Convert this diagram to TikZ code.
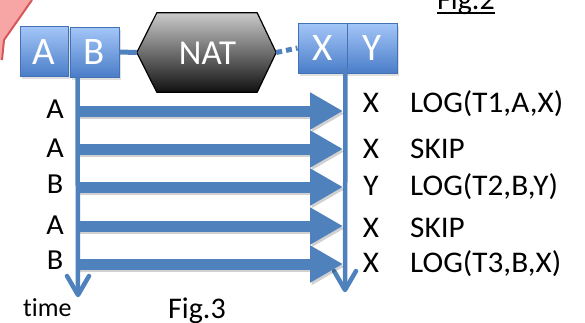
\documentclass[tikz,border=0pt]{standalone}
\usepackage{fontspec}
\setmainfont{Carlito}[Ligatures=NoCommon]
\newfontfamily\widefont{Carlito}[Ligatures=NoCommon, FakeStretch=1.04]
\usetikzlibrary{arrows.meta,calc,shadows}

\definecolor{flow}{HTML}{4F81BD}
\definecolor{boxtop}{HTML}{A4C6F8}
\definecolor{boxbot}{HTML}{4A7DC8}
\definecolor{boxedge}{HTML}{4272B5}
\definecolor{hextop}{HTML}{CACACA}
\definecolor{hexbot}{HTML}{111111}
\definecolor{tabfill}{HTML}{F8A5A5}
\definecolor{tabedge}{HTML}{D35858}

\tikzset{
  fsize/.style={font=\fontsize{#1}{#1}\selectfont},
  wsize/.style={font=\widefont\fontsize{#1}{#1}\selectfont},
  portbox/.style={draw=boxedge, line width=1pt, top color=boxtop, bottom color=boxbot,
    minimum width=48pt, minimum height=50pt, inner sep=0pt, text=white, fsize=39,
    drop shadow={opacity=0.25, shadow xshift=2pt, shadow yshift=-2.5pt}},
  hexpath/.style={draw=black, line width=1.2pt, top color=hextop, bottom color=hexbot},
  link/.style={draw=flow, line width=5pt},
  dashlink/.style={draw=flow, line width=5pt, dash pattern=on 6pt off 4pt},
  timeline/.style={draw=flow, line width=4.5pt},
  chevron/.style={draw=flow, line width=4.5pt, line cap=round, line join=round},
  packet/.style={draw=flow, line width=11pt,
    -{Triangle[length=33pt, width=35pt]}},
  packetshade/.style={draw=black, opacity=0.18, line width=11pt,
    -{Triangle[length=33pt, width=35pt]}},
  lbl/.style={anchor=base, inner sep=0pt, wsize=29},
  port/.style={anchor=base, inner sep=0pt, wsize=30},
  action/.style={anchor=base west, inner sep=0pt, wsize=30},
}

\begin{document}
\begin{tikzpicture}[x=1pt, y=-1pt]
\useasboundingbox (0,0) rectangle (585,322);

% folded red tab in the corner
\fill[tabfill] (0,0) -- (32,0) -- (4,40) -- (2,60) -- (0,60) -- cycle;
\draw[tabedge, line width=2pt, line join=round] (32,0) -- (4,40) -- (2,60);

% caption of the upper figure
\node[anchor=base west, inner sep=0pt, fsize=30] (fig2) at (437,9) {Fig.2};
\draw[black, line width=1.3pt] ($(fig2.base west)+(0,4)$) -- ($(fig2.base east)+(0,4)$);

% hosts on the inner side, NAT box, hosts on the outer side
\node[portbox] (A) at (44,51.5) {A};
\node[portbox, minimum width=49pt] (B) at (94.5,52) {B};
\node[portbox, minimum width=49pt] (X) at (322.5,48) {X};
\node[portbox, minimum width=50pt] (Y) at (372,48) {Y};

\node[minimum width=139pt, minimum height=79pt, inner sep=0pt] (nat) at (206.5,52.5) {};
\path[hexpath] (nat.west) -- ([xshift=20pt]nat.north west) -- ([xshift=-19pt]nat.north east)
  -- (nat.east) -- ([xshift=-19pt]nat.south east) -- ([xshift=20pt]nat.south west) -- cycle;
\node[text=white, fsize=35, inner sep=0pt] (natlabel) at (207.5,53.5) {NAT};

\draw[link] (B.east) -- (nat.west);
\draw[dashlink] (nat.east) -- (X.west);

% time lines
\coordinate (ltop) at ($(B.south west)+(8,0)$);
\coordinate (lend) at (78,295);
\coordinate (rtop) at ($(X.south east)+(-2,-5)$);
\coordinate (rend) at (345,290);

\draw[timeline] (ltop) -- (lend);
\draw[chevron] ($(lend)+(-11,-19)$) -- (lend) -- ($(lend)+(11,-19)$);
\draw[timeline] (rtop) -- (rend);
\draw[chevron] ($(rend)+(-11,-19)$) -- (rend) -- ($(rend)+(11,-19)$);

% packets crossing the NAT
\foreach \i/\y in {1/111, 2/149, 3/187, 4/226, 5/264} {
  \coordinate (s\i) at (78,\y);
  \coordinate (e\i) at (343,\y);
  \draw[packetshade] ($(s\i)+(1.5,2.5)$) -- ($(e\i)+(1.5,2.5)$);
  \draw[packet] (s\i) -- (e\i);
}

% sources
\node[lbl] (src1) at (55,118) {A};
\node[lbl] (src2) at (55,157) {A};
\node[lbl] (src3) at (55,193) {B};
\node[lbl] (src4) at (55,234) {A};
\node[lbl] (src5) at (55,269) {B};

% destinations and actions
\node[port] (dst1) at (371,112.5) {X};
\node[port] (dst2) at (371,158) {X};
\node[port] (dst3) at (371,195.5) {Y};
\node[port] (dst4) at (371,237) {X};
\node[port] (dst5) at (371,272.5) {X};

\node[action] (act1) at (410,112.5) {LOG(T1,A,X)};
\node[action] (act2) at (410,158) {SKIP};
\node[action] (act3) at (410,195.5) {LOG(T2,B,Y)};
\node[action] (act4) at (410,237) {SKIP};
\node[action] (act5) at (410,272.5) {LOG(T3,B,X)};

% captions of the lower figure
\node[anchor=base west, inner sep=0pt, fsize=26] (time) at (23,316) {time};
\node[anchor=base west, inner sep=0pt, fsize=30] (fig3) at (168,318) {Fig.3};
\end{tikzpicture}
\end{document}
